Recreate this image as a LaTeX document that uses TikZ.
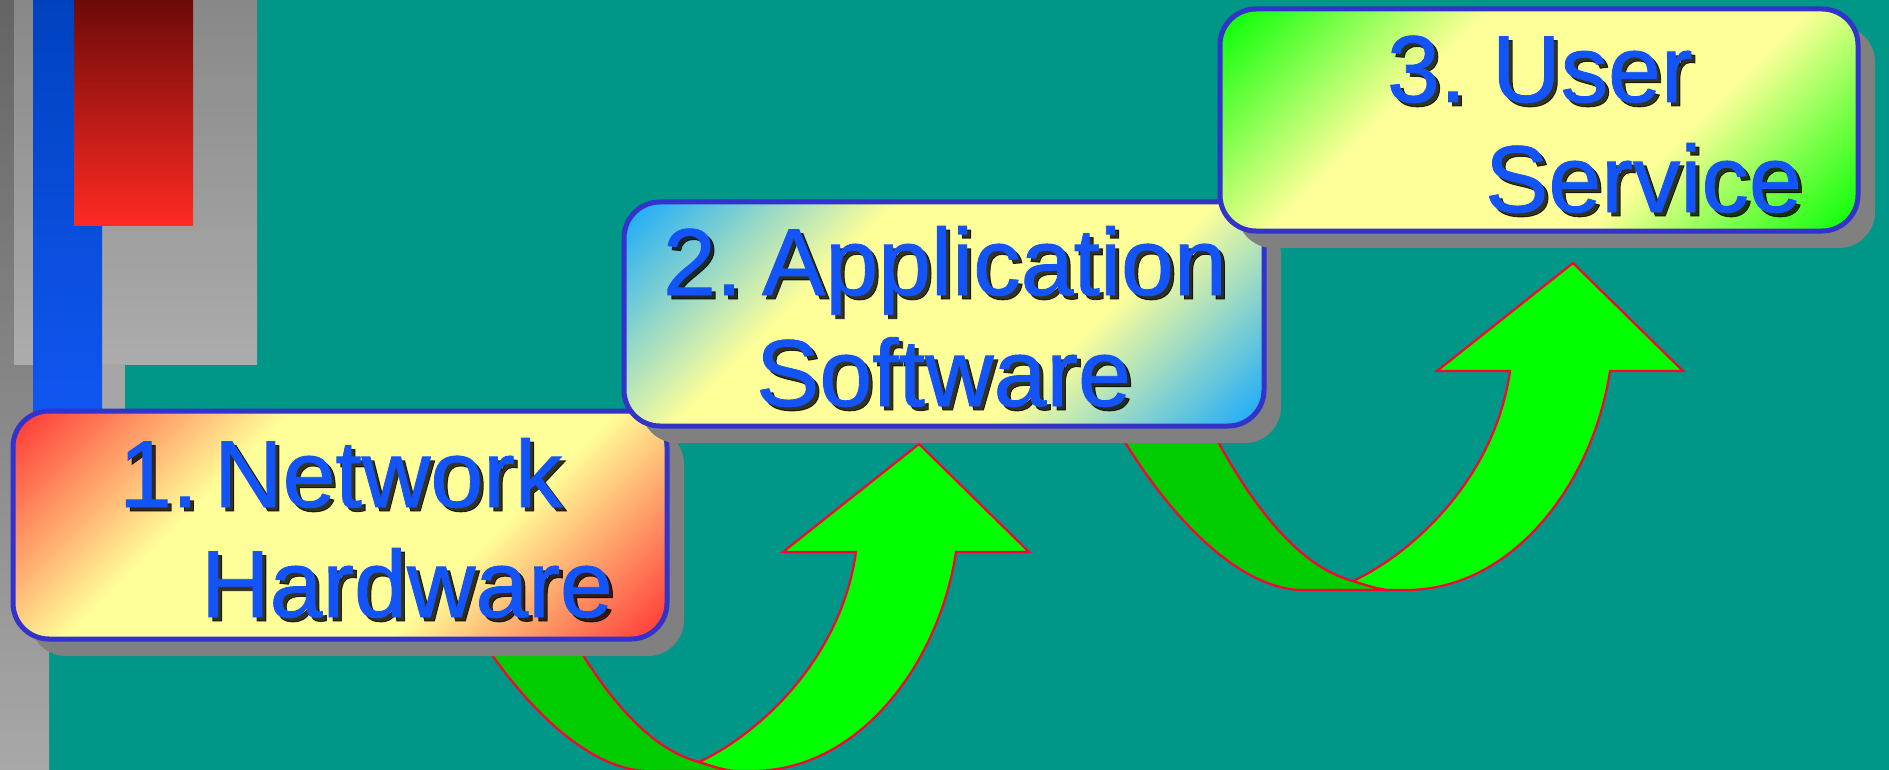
\documentclass[tikz,border=0pt]{standalone}
\usepackage{fontspec}
\setmainfont{Liberation Sans}
\newfontfamily\boxfont[FakeBold=0.9]{Liberation Sans}
\usetikzlibrary{shadows}
\definecolor{bgteal}{RGB}{0,150,136}
\definecolor{shgray}{RGB}{128,128,128}
\definecolor{bordblue}{RGB}{51,51,204}
\definecolor{txtblue}{RGB}{18,84,248}
\definecolor{cYel}{RGB}{255,255,153}
\definecolor{cRed}{RGB}{255,51,51}
\definecolor{cBlue}{RGB}{20,168,255}
\definecolor{cGreen}{RGB}{0,255,0}
\definecolor{arrLight}{RGB}{0,255,0}
\definecolor{arrDark}{RGB}{0,204,0}
\definecolor{arrLine}{RGB}{255,0,51}
\definecolor{gTopA}{RGB}{100,100,100}
\definecolor{gBotA}{RGB}{168,168,168}
\definecolor{gTopB}{RGB}{136,136,136}
\definecolor{gBotB}{RGB}{172,172,172}
\definecolor{gC}{RGB}{166,166,166}
\definecolor{blueTop}{RGB}{0,66,190}
\definecolor{blueBot}{RGB}{17,88,245}
\definecolor{redTop}{RGB}{108,10,10}
\definecolor{redBot}{RGB}{255,42,34}
\pgfdeclarehorizontalshading{shRed}{100bp}{color(0bp)=(cRed); color(14.6bp)=(cRed); color(37bp)=(cYel); color(63bp)=(cYel); color(85.4bp)=(cRed); color(100bp)=(cRed)}
\pgfdeclarehorizontalshading{shBlue}{100bp}{color(0bp)=(cBlue); color(14.6bp)=(cBlue); color(37bp)=(cYel); color(63bp)=(cYel); color(85.4bp)=(cBlue); color(100bp)=(cBlue)}
\pgfdeclarehorizontalshading{shGreen}{100bp}{color(0bp)=(cGreen); color(14.6bp)=(cGreen); color(37bp)=(cYel); color(63bp)=(cYel); color(85.4bp)=(cGreen); color(100bp)=(cGreen)}
\newcommand{\curvedarrow}[1]{%
  \begin{scope}[shift={(#1)}]
    \filldraw[arrowpart, fill=arrDark]
      (-465,150) .. controls (-410,250) and (-335,327) .. (-270,327)
      -- (-185,327) .. controls (-200,325) and (-210,321) .. (-220,318)
      .. controls (-270,305) and (-320,250) .. (-370,150) -- cycle;
    \filldraw[arrowpart, fill=arrLight]
      (-220,318) .. controls (-210,321) and (-200,325) .. (-185,327)
      -- (-167,327) .. controls (-60,327) and (20,220) .. (37,108)
      -- (110,108) -- (0,0) -- (-136,108) -- (-63,108)
      .. controls (-78,215) and (-160,290) .. (-220,318) -- cycle;
  \end{scope}}
\newcommand{\shtxt}[3]{%
  \node[txtshadow] at (#2) {#3};
  \node[txt] (#1) at (#2) {#3};}
\begin{document}
\begin{tikzpicture}[x=1pt,y=-1pt,
  arrowpart/.style={draw=arrLine, line width=2.2pt, line join=miter},
  box/.style={draw=bordblue, line width=5pt, rounded corners=36pt, inner sep=0pt, outer sep=0pt,
    shading angle=-45,
    drop shadow={shadow xshift=17pt, shadow yshift=-17pt, fill=shgray, opacity=1}},
  txt/.style={anchor=base west, inner sep=0pt, outer sep=0pt, text=txtblue, font=\boxfont\fontsize{95}{114}\selectfont},
  txtshadow/.style={txt, text=black, xshift=4pt, yshift=-4pt, opacity=0.8}]
\useasboundingbox (0,0) rectangle (1889,770);
\fill[bgteal] (0,0) rectangle (1889,770);
% left decoration
\shade[top color=gTopA, bottom color=gBotA] (0,0) rectangle (49,770);
\shade[top color=gTopB, bottom color=gBotB] (14,0) rectangle (257,364);
\fill[gC] (49,364) rectangle (125,440);
\shade[top color=blueTop, bottom color=blueBot] (33,0) rectangle (102,440);
\shade[top color=redTop, bottom color=redBot] (74,0) rectangle (193,225);
% arrows
\curvedarrow{919,444}
\curvedarrow{1573,263}
% boxes
\node[box, shading=shRed, minimum width=654pt, minimum height=228pt] (b1) at (340,525) {};
\shtxt{t1a}{119,507}{1.}
\shtxt{t1b}{214,507}{Network}
\shtxt{t1c}{201,617}{Hardware}
\node[box, shading=shBlue, minimum width=640pt, minimum height=224pt] (b2) at (944,314) {};
\shtxt{t2a}{663,295}{2.}
\shtxt{t2b}{762,295}{Application}
\shtxt{t2c}{756,406}{Software}
\node[box, shading=shGreen, minimum width=638pt, minimum height=222pt] (b3) at (1539,120) {};
\shtxt{t3a}{1387,102}{3.}
\shtxt{t3b}{1492,102}{User}
\shtxt{t3c}{1485,212}{Service}
\end{tikzpicture}
\end{document}
